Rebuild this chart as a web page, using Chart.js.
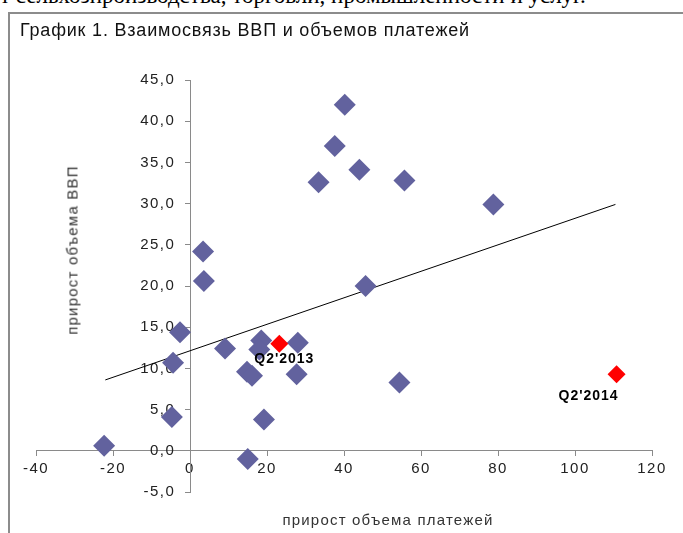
<!DOCTYPE html>
<html>
<head>
<meta charset="utf-8">
<script src="https://cdn.jsdelivr.net/npm/chart.js@4.4.1/dist/chart.umd.min.js"></script>
<style>
  body { margin: 0; background: #fff; }
  #wrap { position: relative; width: 683px; height: 533px; overflow: hidden; }
  #doc { position: absolute; left: 0; top: -17px; font: 23px "Liberation Serif", serif; color: #000; white-space: nowrap; }
  #frame { position: absolute; left: 8px; top: 12px; width: 700px; height: 540px; border-left: 2px solid #8c8c8c; border-top: 2px solid #8c8c8c; }
  #title { position: absolute; left: 20px; top: 20px; font: 18px "Liberation Sans", sans-serif; letter-spacing: 0.8px; color: #111; white-space: nowrap; }
  #xtitle { position: absolute; left: 0; width: 776px; top: 511px; text-align: center; font: 15px "Liberation Sans", sans-serif; letter-spacing: 1.2px; color: #333; }
  #ytitle { position: absolute; left: 72px; top: 250px; transform: translate(-50%, -50%) rotate(-90deg); font: 15px "Liberation Sans", sans-serif; letter-spacing: 1.2px; color: #333; white-space: nowrap; }
  canvas { position: absolute; left: 0; top: 0; }
</style>
</head>
<body>
<div id="wrap">
  <div id="doc">т сельхозпроизводства, торговли, промышленности и услуг.</div>
  <div id="frame"></div>
  <canvas id="chart" width="683" height="533"></canvas>
  <div id="title">График 1. Взаимосвязь ВВП и объемов платежей</div>
  <div id="xtitle">прирост объема платежей</div>
  <div id="ytitle">прирост объема ВВП</div>
</div>
<script>
// прирост объема платежей / прирост объема ВВП
const paymentsGrowth = [-22.3, -4.7, -4.4, -2.6, 3.6, 3.4, 9.1, 14.8, 16.1, 15.0, 19.2, 18.5, 18.0, 28.0, 27.7, 33.4, 37.6, 40.2, 44.0, 45.6, 54.4, 55.7, 78.8];
const gdpGrowth = [0.6, 4.1, 10.7, 14.4, 20.6, 24.2, 12.4, 9.6, 9.1, -1.0, 3.8, 13.4, 12.3, 13.1, 9.3, 32.6, 37.0, 42.0, 34.1, 20.0, 8.3, 32.8, 29.9];

// выделенные кварталы
const markedLabels = ["Q2'2013", "Q2'2014"];
const markedPayments = [23.2, 110.8];
const markedGdp = [13.0, 9.3];

// линия тренда
const trendX = [-22, 110.5];
const trendY = [8.6, 29.9];

const toPoints = (xs, ys) => xs.map((x, i) => ({ x: x, y: ys[i] }));

const axisColor = '#8a8a8a';
const tickFont = { family: "'Liberation Sans', sans-serif", size: 15 };

// разрядка как у подписей в Excel
const spacing = {
    id: 'spacing',
    beforeDraw(chart) { chart.ctx.letterSpacing = '1.5px'; },
    beforeUpdate(chart) { chart.ctx.letterSpacing = '1.5px'; }
};

const pointLabels = {
    id: 'pointLabels',
    afterDatasetsDraw(chart) {
        const ctx = chart.ctx;
        const meta = chart.getDatasetMeta(0);
        const offsets = [[5, 15], [-28, 22]];
        ctx.save();
        ctx.letterSpacing = '1px';
        ctx.font = "bold 14px 'Liberation Sans', sans-serif";
        ctx.fillStyle = '#000';
        ctx.textAlign = 'center';
        ctx.textBaseline = 'middle';
        meta.data.forEach((pt, i) => {
            ctx.fillText(markedLabels[i], pt.x + offsets[i][0], pt.y + offsets[i][1]);
        });
        ctx.restore();
    }
};

const ctx = document.getElementById('chart').getContext('2d');
const chart = new Chart(ctx, {
    type: 'scatter',
    data: {
        datasets: [{
            data: toPoints(markedPayments, markedGdp),
            pointStyle: 'rectRot',
            pointRadius: 9,
            pointBackgroundColor: '#ff0000',
            pointBorderWidth: 0,
            order: 0
        }, {
            data: toPoints(paymentsGrowth, gdpGrowth),
            pointStyle: 'rectRot',
            pointRadius: 11,
            pointBackgroundColor: '#62629e',
            pointBorderWidth: 0,
            order: 1
        }, {
            data: toPoints(trendX, trendY),
            showLine: true,
            borderColor: '#000',
            borderWidth: 1,
            pointRadius: 0,
            order: 2
        }]
    },
    plugins: [spacing, pointLabels],
    options: {
        responsive: false,
        animation: false,
        layout: { padding: { left: 36, right: 31, top: 80, bottom: 41 } },
        plugins: {
            legend: { display: false },
            tooltip: { enabled: false }
        },
        scales: {
            x: {
                type: 'linear',
                min: -40,
                max: 120,
                position: { y: 0 },
                afterFit: (s) => { s.height = 0; },
                ticks: { stepSize: 20, color: '#222', font: tickFont, padding: 4 },
                grid: { drawOnChartArea: false, drawTicks: true, tickLength: 5, color: axisColor },
                border: { color: axisColor }
            },
            y: {
                type: 'linear',
                min: -5,
                max: 45,
                position: { x: 0 },
                afterFit: (s) => { s.width = 0; },
                ticks: {
                    stepSize: 5,
                    color: '#222',
                    font: tickFont,
                    // отступ подписей от оси
                    callback: (v) => v.toFixed(1).replace('.', ',') + '\u2002 '
                },
                grid: { drawOnChartArea: false, drawTicks: true, tickLength: 5, color: axisColor },
                border: { color: axisColor }
            }
        }
    }
});
</script>
</body>
</html>
